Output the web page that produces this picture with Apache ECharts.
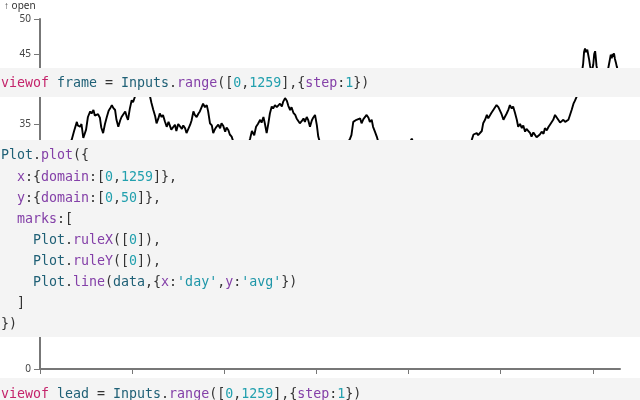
<!DOCTYPE html>
<html>
<head>
<meta charset="utf-8">
<script src="https://cdn.jsdelivr.net/npm/echarts@6/dist/echarts.min.js"></script>
<style>html,body{margin:0;padding:0;background:#fff;}#c{width:640px;height:400px;}</style>
</head>
<body>
<div id="c"></div>
<script>
// x: day index, y: moving average of "open"
const days = [
  0,11,22,33,43,54,63,69,74,80,
  82,87,90,94,100,104,109,112,116,119,
  123,126,130,133,137,141,145,149,152,156,
  159,163,166,170,174,177,181,185,188,191,
  195,199,202,206,211,215,219,224,228,232,
  237,239,242,246,250,253,257,260,264,267,
  271,275,279,282,285,289,293,296,300,304,
  308,311,315,318,322,326,329,333,336,340,
  344,347,351,354,358,362,365,369,373,376,
  380,383,387,391,394,398,402,405,409,412,
  416,420,425,432,438,445,451,456,460,465,
  469,473,478,481,485,488,492,496,499,503,
  506,510,514,517,521,525,528,532,536,539,
  543,546,550,554,557,561,564,568,572,575,
  579,582,586,590,593,597,601,604,608,614,
  623,632,640,649,658,666,673,676,680,684,
  687,691,695,698,702,705,709,713,716,720,
  723,727,731,735,742,751,760,768,777,786,
  794,801,807,812,821,829,838,847,855,864,
  873,881,890,899,907,916,925,931,937,941,
  948,951,955,959,962,966,970,973,977,980,
  984,988,991,995,999,1002,1006,1009,1013,1017,
  1020,1024,1027,1031,1035,1038,1042,1046,1049,1053,
  1056,1060,1064,1067,1071,1075,1078,1082,1085,1089,
  1093,1096,1100,1104,1107,1111,1114,1118,1122,1125,
  1129,1133,1136,1140,1143,1147,1151,1154,1158,1161,
  1165,1169,1173,1177,1179,1181,1183,1185,1187,1188,
  1190,1192,1194,1197,1199,1201,1203,1205,1206,1208,
  1211,1216,1220,1224,1229,1233,1235,1237,1239,1241,
  1243,1244,1246,1248,1250,1252,1255
];
const avg = [
  29.0,29.8,28.9,30.5,31.2,30.4,31.8,32.8,34.0,35.3,
  34.8,34.6,35.0,33.0,34.2,36.0,36.8,36.5,37.0,36.2,
  36.0,36.4,35.9,34.5,33.7,35.0,36.0,36.9,37.2,37.7,
  37.3,37.0,35.6,34.6,35.5,36.0,36.2,36.8,36.1,35.6,
  37.2,38.4,38.1,38.9,39.8,40.6,40.1,41.0,40.4,39.6,
  39.3,38.9,38.0,37.0,36.1,35.1,35.8,36.5,36.0,36.3,
  35.4,34.6,35.3,35.1,34.2,34.4,34.9,34.0,35.0,35.1,
  34.3,34.8,34.4,33.7,33.7,34.9,35.5,36.8,36.3,36.0,
  36.5,36.8,37.0,37.9,37.4,37.7,36.8,35.1,34.8,33.7,
  34.3,34.6,34.9,34.4,35.1,34.7,33.9,34.5,34.1,33.5,
  33.2,32.4,31.5,30.8,31.6,30.9,31.9,32.9,34.0,33.4,
  34.6,35.0,35.6,35.2,36.0,35.1,33.7,35.2,36.5,37.5,
  37.2,37.7,37.4,37.6,37.9,37.5,38.2,38.7,38.3,37.6,
  37.0,37.4,36.6,36.3,35.8,35.6,35.1,35.4,35.8,35.3,
  36.0,35.6,34.6,35.5,35.9,36.3,34.8,33.2,32.3,31.5,
  30.6,31.2,30.1,30.9,31.4,32.1,32.9,33.4,35.3,35.1,
  35.6,35.6,35.8,35.1,35.7,35.9,36.3,35.9,35.3,35.6,
  34.6,33.9,33.2,32.3,31.4,30.5,29.8,30.6,31.3,30.4,
  31.5,32.2,32.9,32.1,31.0,30.2,29.5,30.3,29.1,29.9,
  30.8,30.0,31.1,31.7,30.9,31.8,31.2,32.0,32.7,33.5,
  33.7,33.4,33.2,34.0,35.1,35.6,36.3,35.8,36.0,36.6,
  37.0,37.2,37.7,37.4,37.2,36.4,35.6,36.0,36.5,37.1,
  37.7,37.2,37.5,36.6,35.6,34.6,35.0,34.4,34.8,33.9,
  34.3,34.1,33.7,33.2,33.8,33.4,33.1,32.9,33.5,33.9,
  33.6,34.4,34.1,34.6,34.9,35.1,35.6,36.3,35.9,35.6,
  35.2,35.1,35.6,35.3,35.1,35.6,36.4,37.0,37.9,38.3,
  38.9,40.2,41.6,42.7,43.6,45.3,45.8,45.3,45.1,45.6,
  45.5,44.2,43.3,42.4,42.9,43.5,45.0,45.4,44.8,43.3,
  42.3,41.9,42.4,41.8,42.5,42.8,43.5,44.2,44.9,44.4,
  45.0,44.6,45.1,44.3,43.8,43.2,42.5
];
const yLabel = '↑ open';

// code cells overlaying the chart: tokens [style, text] or plain text
const codeFrame = [['k','viewof'],' ',['v','frame'],' = ',['v','Inputs'],'.',['m','range'],'([',['n','0'],',',['n','1259'],'],{',['m','step'],':',['n','1'],'})'];
const codePlot = [
  [['v','Plot'],'.',['m','plot'],'({'],
  ['  ',['m','x'],':{',['m','domain'],':[',['n','0'],',',['n','1259'],']},'],
  ['  ',['m','y'],':{',['m','domain'],':[',['n','0'],',',['n','50'],']},'],
  ['  ',['m','marks'],':['],
  ['    ',['v','Plot'],'.',['m','ruleX'],'([',['n','0'],']),'],
  ['    ',['v','Plot'],'.',['m','ruleY'],'([',['n','0'],']),'],
  ['    ',['v','Plot'],'.',['m','line'],'(',['v','data'],',{',['m','x'],':',['s',"'day'"],',',['m','y'],':',['s',"'avg'"],'})'],
  ['  ]'],
  ['})']
];
const codeLead = [['k','viewof'],' ',['v','lead'],' = ',['v','Inputs'],'.',['m','range'],'([',['n','0'],',',['n','1259'],'],{',['m','step'],':',['n','1'],'})'];

const rich = {
  k:{fill:'#c4246b'},
  v:{fill:'#1f6076'},
  m:{fill:'#8440a8'},
  n:{fill:'#22a0ae'},
  s:{fill:'#1e96a8'}
};
function enc(tokens){
  return tokens.map(t => typeof t === 'string' ? t : '{' + t[0] + '|' + t[1] + '}').join('');
}
function codeText(tokens, x, y){
  return {type:'text', x:x, y:y, z:101, silent:true,
    style:{text:enc(tokens), fontFamily:'DejaVu Sans Mono', fontSize:13.3, fill:'#333',
      verticalAlign:'middle', align:'left', rich:rich}};
}
const graphics = [
  {type:'text', x:4, y:6, z:101, style:{text:yLabel, fontFamily:'Noto Sans', fontSize:10, fill:'#333', verticalAlign:'middle'}},
  {type:'rect', z:100, shape:{x:0,y:68,width:640,height:29}, style:{fill:'#f4f4f4'}},
  codeText(codeFrame, 1, 84),
  {type:'rect', z:100, shape:{x:0,y:140,width:640,height:197}, style:{fill:'#f4f4f4'}},
  {type:'rect', z:100, shape:{x:0,y:378,width:640,height:22}, style:{fill:'#f4f4f4'}},
  codeText(codeLead, 1, 395)
];
codePlot.forEach((line, i) => graphics.push(codeText(line, 1, 156 + i * 21.1)));

const chart = echarts.init(document.getElementById('c'), null, {renderer:'canvas'});
chart.setOption({
  animation:false,
  grid:{left:40, right:20, top:19, bottom:31, containLabel:false},
  xAxis:{type:'value', min:0, max:1259, interval:200,
    axisLine:{show:true, lineStyle:{color:'#777', width:2}},
    axisTick:{show:true, length:5, lineStyle:{color:'#777', width:1}},
    axisLabel:{margin:12, fontSize:10, color:'#444', fontFamily:'Noto Sans', showMaxLabel:false},
    splitLine:{show:false}},
  yAxis:{type:'value', min:0, max:50, interval:5,
    axisLine:{show:true, lineStyle:{color:'#777', width:2}},
    axisTick:{show:true, length:6, lineStyle:{color:'#777', width:1}},
    axisLabel:{margin:9, fontSize:10, color:'#444', fontFamily:'Noto Sans'},
    splitLine:{show:false}},
  series:[{type:'line', data:days.map((d,i)=>[d, avg[i]]), showSymbol:false,
    lineStyle:{color:'#000', width:1.9}, z:2}],
  graphic:graphics
});
</script>
</body>
</html>
